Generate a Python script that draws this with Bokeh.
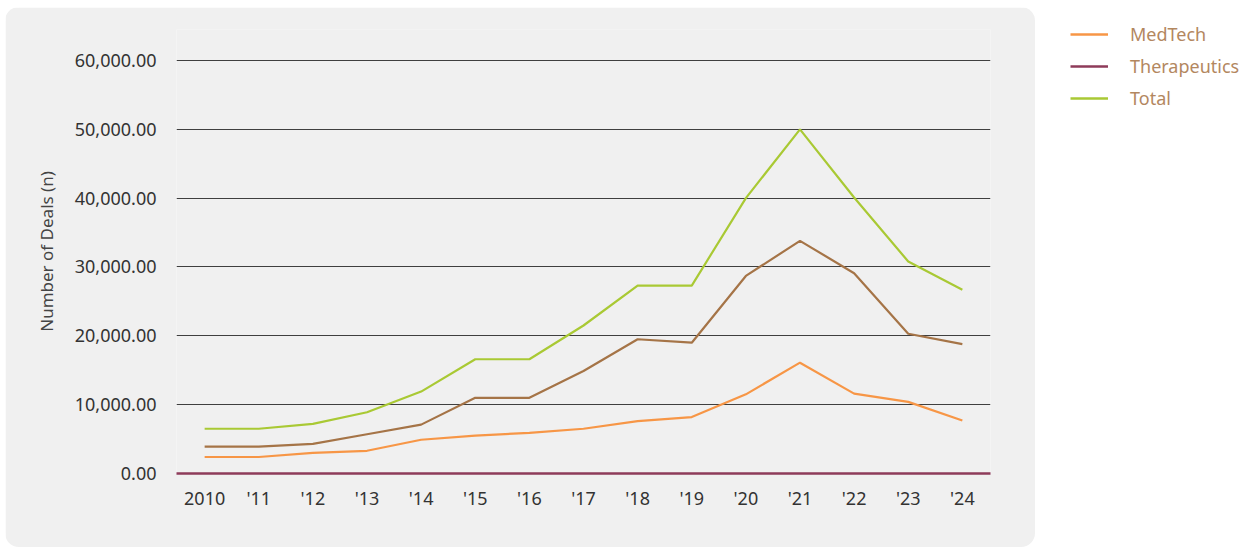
from bokeh.plotting import figure
from bokeh.layouts import row
from bokeh.models import Range1d, FixedTicker, NumeralTickFormatter, Legend, LegendItem
from bokeh.embed import file_html
from bokeh.resources import INLINE

years = [2010, 2011, 2012, 2013, 2014, 2015, 2016, 2017, 2018, 2019, 2020, 2021, 2022, 2023, 2024]
year_labels = ["2010", "'11", "'12", "'13", "'14", "'15", "'16", "'17", "'18", "'19", "'20", "'21", "'22", "'23", "'24"]
medtech = [2400, 2400, 3000, 3300, 4900, 5500, 5900, 6500, 7600, 8200, 11500, 16100, 11600, 10400, 7700]
therapeutics = [3900, 3900, 4300, 5700, 7100, 11000, 11000, 14900, 19500, 19000, 28700, 33800, 29100, 20300, 18800]
total = [6500, 6500, 7200, 8900, 11900, 16600, 16600, 21500, 27300, 27300, 40000, 50000, 40100, 30800, 26700]
y_ticks = [0, 10000, 20000, 30000, 40000, 50000, 60000]

C_MED = "#f79646"
C_THER_LINE = "#a57447"
C_THER_LEG = "#8e3b5a"
C_TOT = "#a9c934"
FONT = "Noto Sans"

# frame spans 444 px; 60,000 sits 413 px above the baseline
p = figure(width=1030, height=540, output_backend="svg", toolbar_location=None,
           x_range=Range1d(2009.48, 2024.52), y_range=Range1d(0, 64500),
           min_border_left=171, min_border_right=45, min_border_top=22, min_border_bottom=74)
p.margin = (7, 0, 0, 5)
p.styles = {"border-radius": "14px", "overflow": "hidden"}
p.background_fill_color = "#f0f0f0"
p.border_fill_color = "#f0f0f0"
p.outline_line_color = None

p.xgrid.visible = False
p.ygrid.grid_line_color = "#3f3f3f"
p.ygrid.grid_line_width = 1
p.ygrid.ticker = FixedTicker(ticks=y_ticks)

p.xaxis.ticker = FixedTicker(ticks=years)
p.xaxis.major_label_overrides = {y: l for y, l in zip(years, year_labels)}
p.xaxis.axis_line_color = C_THER_LEG
p.xaxis.axis_line_width = 2.5
p.xaxis.major_tick_line_color = None
p.xaxis.minor_tick_line_color = None
p.xaxis.major_label_standoff = 6
p.xaxis.major_label_text_font = FONT
p.xaxis.major_label_text_font_size = "18px"
p.xaxis.major_label_text_color = "#333333"

p.yaxis.ticker = FixedTicker(ticks=y_ticks)
p.yaxis.formatter = NumeralTickFormatter(format="0,0.00")
p.yaxis.axis_line_color = None
p.yaxis.major_tick_line_color = None
p.yaxis.minor_tick_line_color = None
p.yaxis.major_label_standoff = 14
p.yaxis.major_label_text_font = FONT
p.yaxis.major_label_text_font_size = "18px"
p.yaxis.major_label_text_color = "#333333"
p.yaxis.axis_label = "Number of Deals (n)"
p.yaxis.axis_label_text_font = FONT
p.yaxis.axis_label_text_font_style = "normal"
p.yaxis.axis_label_text_font_size = "17px"
p.yaxis.axis_label_text_color = "#444444"
p.yaxis.axis_label_standoff = 14

p.line(years, total, line_color=C_TOT, line_width=2.2)
p.line(years, therapeutics, line_color=C_THER_LINE, line_width=2.2)
p.line(years, medtech, line_color=C_MED, line_width=2.2)

# legend panel (outside the grey card)
p2 = figure(width=224, height=547, output_backend="svg", toolbar_location=None,
            title=None, x_axis_location=None, y_axis_location=None,
            x_range=Range1d(0, 1), y_range=Range1d(0, 1),
            min_border_left=35, min_border_right=0, min_border_top=22, min_border_bottom=0)
p2.grid.visible = False
p2.outline_line_color = None
p2.background_fill_color = "white"
p2.border_fill_color = "white"
r1 = p2.line(years, medtech, line_color=C_MED, line_width=2.5)
r2 = p2.line(years, therapeutics, line_color=C_THER_LEG, line_width=2.5)
r3 = p2.line(years, total, line_color=C_TOT, line_width=2.5)
leg = Legend(items=[LegendItem(label="MedTech", renderers=[r1]),
                    LegendItem(label="Therapeutics", renderers=[r2]),
                    LegendItem(label="Total", renderers=[r3])],
             location="top_left", orientation="vertical",
             glyph_width=38, glyph_height=20, label_height=20, spacing=8,
             label_standoff=22, padding=0, margin=0,
             label_text_font=FONT, label_text_font_size="18px", label_text_color="#b3875f",
             border_line_color=None, background_fill_alpha=0)
p2.add_layout(leg, "center")

layout = row(p, p2)
open("out.html", "w").write(file_html(layout, INLINE))
